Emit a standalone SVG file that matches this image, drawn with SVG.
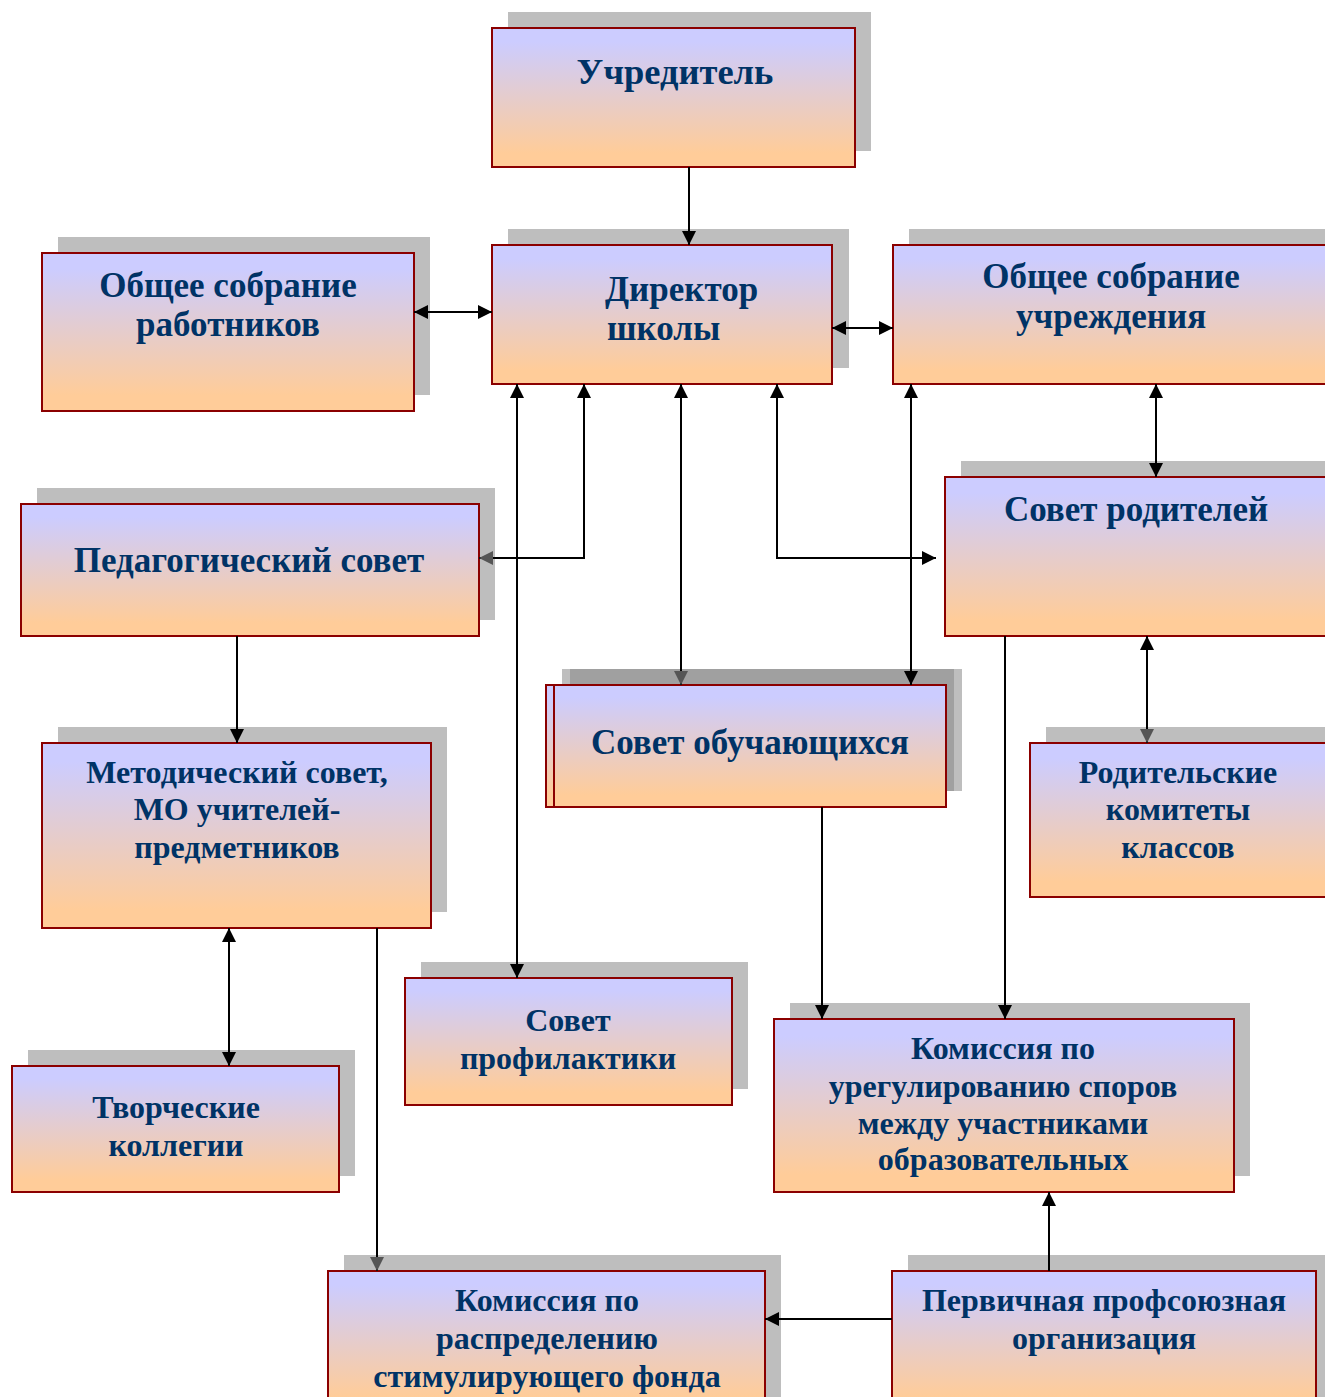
<svg xmlns="http://www.w3.org/2000/svg" width="1325" height="1397" viewBox="0 0 1325 1397">
<style>
.sh{fill:#BEBEBE}
.bx{fill:url(#g);stroke:#8B0000;stroke-width:2}
.t{font-family:"Liberation Serif","Times New Roman",serif;font-weight:bold;font-size:35px;fill:#003366;text-anchor:middle}
.s{font-size:32px}
.tl{text-anchor:start}
.c{fill:none;stroke:#000;stroke-width:2}
</style>
<defs>
<linearGradient id="g" x1="0" y1="0" x2="0" y2="1">
<stop offset="0.1" stop-color="#CCCCFF"/>
<stop offset="0.9" stop-color="#FFCC99"/>
</linearGradient>
<marker id="a" viewBox="0 0 10 10" refX="10" refY="5" markerWidth="7" markerHeight="7.5" markerUnits="strokeWidth" orient="auto-start-reverse">
<path d="M0,0 L10,5 L0,10 z" fill="#000"/>
</marker>
<marker id="ag" viewBox="0 0 10 10" refX="10" refY="5" markerWidth="7" markerHeight="7.5" markerUnits="strokeWidth" orient="auto-start-reverse">
<path d="M0,0 L10,5 L0,10 z" fill="#555"/>
</marker>
</defs>
<rect width="1325" height="1397" fill="#fff"/>

<g id="n-uchreditel">
<rect class="sh" x="508" y="12" width="363" height="139"/>
<rect class="bx" x="492" y="28" width="363" height="139"/>
<text class="t" x="675" y="84" style="font-size:36.5px">Учредитель</text>
</g>

<g id="n-direktor">
<rect class="sh" x="508" y="229" width="341" height="139"/>
<rect class="bx" x="492" y="245" width="340" height="139"/>
<text class="t tl" x="605" y="301">Директор</text>
<text class="t tl" x="607" y="340">школы</text>
</g>

<g id="n-sobranie-rab">
<rect class="sh" x="58" y="237" width="372" height="158"/>
<rect class="bx" x="42" y="253" width="372" height="158"/>
<text class="t" x="228" y="297">Общее собрание</text>
<text class="t" x="228" y="336">работников</text>
</g>

<g id="n-sobranie-uch">
<rect class="sh" x="909" y="229" width="420" height="139"/>
<rect class="bx" x="893" y="245" width="440" height="139"/>
<text class="t" x="1111" y="288">Общее собрание</text>
<text class="t" x="1111" y="328">учреждения</text>
</g>

<g id="n-pedsovet">
<rect class="sh" x="37" y="488" width="458" height="132"/>
<rect class="bx" x="21" y="504" width="458" height="132"/>
<text class="t" x="249" y="572">Педагогический совет</text>
</g>

<g id="n-roditeli">
<rect class="sh" x="961" y="461" width="370" height="159"/>
<rect class="bx" x="945" y="477" width="390" height="159"/>
<text class="t" x="1136" y="521">Совет родителей</text>
</g>

<g id="n-obuch">
<rect class="sh" x="562" y="669" width="400" height="122"/>
<rect x="570" y="669" width="384" height="122" fill="#A0A0A0"/>
<rect class="bx" x="546" y="685" width="392" height="122"/>
<rect class="bx" x="554" y="685" width="392" height="122"/>
<text class="t" x="750" y="754">Совет обучающихся</text>
</g>

<g id="n-metod">
<rect class="sh" x="58" y="727" width="389" height="185"/>
<rect class="bx" x="42" y="743" width="389" height="185"/>
<text class="t s" x="237" y="783">Методический совет,</text>
<text class="t s" x="237" y="820">МО учителей-</text>
<text class="t s" x="237" y="858">предметников</text>
</g>

<g id="n-rodkom">
<rect class="sh" x="1046" y="727" width="285" height="154"/>
<rect class="bx" x="1030" y="743" width="305" height="154"/>
<text class="t s" x="1178" y="783">Родительские</text>
<text class="t s" x="1178" y="820">комитеты</text>
<text class="t s" x="1178" y="858">классов</text>
</g>

<g id="n-tvorch">
<rect class="sh" x="28" y="1050" width="327" height="126"/>
<rect class="bx" x="12" y="1066" width="327" height="126"/>
<text class="t s" x="176" y="1118">Творческие</text>
<text class="t s" x="176" y="1156">коллегии</text>
</g>

<g id="n-profil">
<rect class="sh" x="421" y="962" width="327" height="127"/>
<rect class="bx" x="405" y="978" width="327" height="127"/>
<text class="t s" x="568" y="1031">Совет</text>
<text class="t s" x="568" y="1069">профилактики</text>
</g>

<g id="n-kom-spor">
<rect class="sh" x="790" y="1003" width="460" height="173"/>
<rect class="bx" x="774" y="1019" width="460" height="173"/>
<text class="t s" x="1003" y="1059">Комиссия по</text>
<text class="t s" x="1003" y="1097">урегулированию споров</text>
<text class="t s" x="1003" y="1134">между участниками</text>
<text class="t s" x="1003" y="1170">образовательных</text>
</g>

<g id="n-kom-fond">
<rect class="sh" x="344" y="1255" width="437" height="150"/>
<rect class="bx" x="328" y="1271" width="437" height="140"/>
<text class="t s" x="547" y="1311">Комиссия по</text>
<text class="t s" x="547" y="1349">распределению</text>
<text class="t s" x="547" y="1387">стимулирующего фонда</text>
</g>

<g id="n-profsoyuz">
<rect class="sh" x="908" y="1255" width="420" height="150"/>
<rect class="bx" x="892" y="1271" width="424" height="140"/>
<text class="t s" x="1104" y="1311">Первичная профсоюзная</text>
<text class="t s" x="1104" y="1349">организация</text>
</g>

<g id="connectors">
<line class="c" x1="689" y1="167" x2="689" y2="245" marker-end="url(#a)"/>
<line class="c" x1="414" y1="312" x2="492" y2="312" marker-start="url(#a)" marker-end="url(#a)"/>
<line class="c" x1="832" y1="328" x2="893" y2="328" marker-start="url(#a)" marker-end="url(#a)"/>
<line class="c" x1="1156" y1="384" x2="1156" y2="477" marker-start="url(#a)" marker-end="url(#a)"/>
<line class="c" x1="517" y1="384" x2="517" y2="978" marker-start="url(#a)" marker-end="url(#a)"/>
<polyline class="c" points="584,384 584,558 479,558" marker-start="url(#a)" marker-end="url(#ag)"/>
<line class="c" x1="681" y1="384" x2="681" y2="685" marker-start="url(#a)" marker-end="url(#ag)"/>
<polyline class="c" points="777,384 777,558 936,558" marker-start="url(#a)" marker-end="url(#a)"/>
<line class="c" x1="911" y1="384" x2="911" y2="685" marker-start="url(#a)" marker-end="url(#a)"/>
<line class="c" x1="1147" y1="636" x2="1147" y2="743" marker-start="url(#a)" marker-end="url(#ag)"/>
<line class="c" x1="237" y1="636" x2="237" y2="743" marker-end="url(#a)"/>
<line class="c" x1="229" y1="928" x2="229" y2="1066" marker-start="url(#a)" marker-end="url(#a)"/>
<line class="c" x1="377" y1="928" x2="377" y2="1271" marker-end="url(#ag)"/>
<line class="c" x1="822" y1="807" x2="822" y2="1019" marker-end="url(#a)"/>
<line class="c" x1="1005" y1="636" x2="1005" y2="1019" marker-end="url(#a)"/>
<line class="c" x1="1049" y1="1271" x2="1049" y2="1192" marker-end="url(#a)"/>
<line class="c" x1="892" y1="1319" x2="765" y2="1319" marker-end="url(#a)"/>
</g>
</svg>
